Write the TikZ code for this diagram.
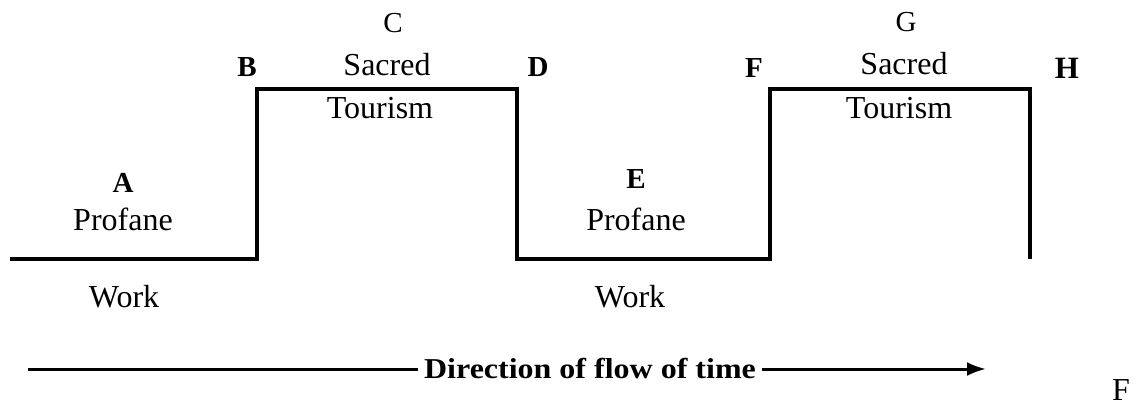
\documentclass[tikz,border=0pt]{standalone}
\usepackage{fontspec}
\setmainfont{Liberation Serif}
\usetikzlibrary{arrows.meta}
\tikzset{
  lbl/.style={anchor=base, inner sep=0pt, font=\fontsize{32}{36}\selectfont},
  letter/.style={anchor=base, inner sep=0pt, font=\fontsize{29}{33}\selectfont\bfseries},
  letterreg/.style={anchor=base, inner sep=0pt, font=\fontsize{29}{33}\selectfont},
  stepline/.style={line width=3.4pt, line join=miter},
  flow/.style={line width=3pt},
}
\begin{document}
\begin{tikzpicture}[x=1pt,y=-1pt]
\useasboundingbox (0,0) rectangle (1143,407);
% step outline
\coordinate (p0) at (10,259);
\coordinate (p1) at (257,259);
\coordinate (p2) at (257,89);
\coordinate (p3) at (517,89);
\coordinate (p4) at (517,259);
\coordinate (p5) at (770,259);
\coordinate (p6) at (770,89);
\coordinate (p7) at (1030,89);
\coordinate (p8) at (1030,259);
\draw[stepline] (p0) -- (p1) -- (p2) -- (p3) -- (p4) -- (p5) -- (p6) -- (p7) -- (p8);
% first profane
\node[letter] (A) at (123,192) {A};
\node[lbl] (prof1) at (123,230) {Profane};
\node[lbl] (work1) at (124,307) {Work};
% first sacred
\node[letter] (B) at (247,76) {B};
\node[letterreg] (C) at (393,32) {C};
\node[lbl] (sac1) at (387,75) {Sacred};
\node[lbl] (tour1) at (380,118) {Tourism};
\node[letter] (D) at (538,76) {D};
% second profane
\node[letter] (E) at (636,188) {E};
\node[lbl] (prof2) at (636,230) {Profane};
\node[lbl] (work2) at (630,307) {Work};
% second sacred
\node[letter] (F) at (754,77) {F};
\node[letterreg] (G) at (906,31) {G};
\node[lbl] (sac2) at (904,74) {Sacred};
\node[lbl] (tour2) at (899,118) {Tourism};
\node[letter, font=\fontsize{31}{35}\selectfont\bfseries] (H) at (1067,78) {H};
% direction of time
\coordinate (s) at (28,369);
\coordinate (t) at (986,369);
\node[anchor=base, inner xsep=6pt, inner ysep=0pt] (dir) at (590,378)
  {\scalebox{1}[0.9]{\fontsize{32}{36}\selectfont\bfseries Direction of flow of time}};
\draw[flow] (s) -- (dir.west |- s);
\draw[flow, -{Latex[length=19pt,width=14pt]}] (dir.east |- t) -- (t);
% corner mark
\node[anchor=base, inner sep=0pt, font=\fontsize{32}{36}\selectfont] (mark) at (1121,400) {F};
\end{tikzpicture}
\end{document}
